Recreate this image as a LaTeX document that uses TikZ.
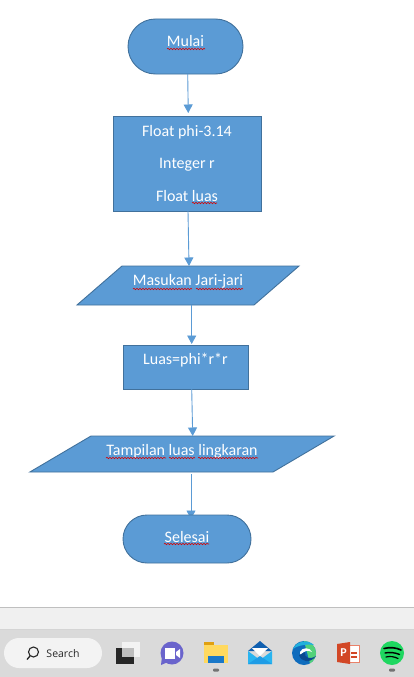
\documentclass[tikz,border=0pt]{standalone}
\usepackage{fontspec}
\setmainfont{Carlito}
\newfontfamily\searchfont{Open Sans}
\usetikzlibrary{arrows.meta,shapes.geometric,shapes.misc,decorations.pathmorphing,backgrounds}
\definecolor{fillblue}{HTML}{5B9BD5}
\definecolor{edgeblue}{HTML}{41719C}
\definecolor{barbg}{HTML}{DADADA}
\definecolor{stripbg}{HTML}{F0F0F0}
\definecolor{pillbg}{HTML}{F3F3F3}
\definecolor{meetpurple}{HTML}{6A64CC}
\definecolor{foldertab}{HTML}{E0A010}
\definecolor{folderbody}{HTML}{FFD95F}
\definecolor{folderblue}{HTML}{1A78C8}
\definecolor{mailtop}{HTML}{0F5FB0}
\definecolor{mailbody}{HTML}{28B4F0}
\definecolor{maillow}{HTML}{1E9CE6}
\definecolor{edgeblue1}{HTML}{0F6CBD}
\definecolor{edgegreen}{HTML}{52D27A}
\definecolor{edgecyan}{HTML}{22B0DC}
\definecolor{edgedark}{HTML}{0B4A90}
\definecolor{pptred}{HTML}{D24726}
\definecolor{pptorange}{HTML}{E9826A}
\definecolor{spotgreen}{HTML}{1ED760}
\tikzset{
  x=1pt,y=-1pt,
  flowshape/.style={draw=edgeblue,fill=fillblue,line width=0.9pt,text=white,inner sep=0pt,outer sep=0pt,
     font=\fontsize{16}{32.5}\selectfont,align=center},
  terminal/.style={flowshape,rounded rectangle},
  procbox/.style={flowshape,rectangle},
  ioshape/.style={draw=edgeblue,fill=fillblue,line width=0.9pt,inner sep=0pt,outer sep=0pt,trapezium},
  connector/.style={draw=fillblue,line width=0.9pt,-{Triangle[length=8.5pt,width=9pt]}},
  squiggle/.style={draw=red!85!black,line width=0.6pt,decorate,decoration={snake,amplitude=0.7pt,segment length=3pt}},
  lbl/.style={text=white,font=\fontsize{16}{19}\selectfont},
  pin/.style={fill=black!55,rounded corners=1pt}
}
\begin{document}
\begin{tikzpicture}
\useasboundingbox (0,0) rectangle (414,677);

% flowchart shapes
\node[terminal,minimum width=115pt,minimum height=55pt] (mulai) at (185.5,46.5) {};
\node[lbl] (mulaitxt) at (185.5,41) {Mulai};
\node[procbox,minimum width=148pt,minimum height=95pt] (vars) at (187,163.5) {Float phi-3.14\\Integer r\\Float luas};
\node[ioshape,trapezium left angle=40.9,trapezium right angle=139.1] (input) at (188,285.5) {\hbox to 132pt{\rule{0pt}{39pt}\hfil}};
\node[lbl] (inputtxt) at (188,281.5) {Masukan Jari-jari};
\node[procbox,minimum width=125pt,minimum height=44pt] (calc) at (185.5,367) {};
\node[lbl] (calctxt) at (185.5,360.5) {Luas=phi*r*r};
\node[ioshape,trapezium left angle=30.5,trapezium right angle=149.5] (output) at (182,454) {\hbox to 182pt{\rule{0pt}{36pt}\hfil}};
\node[lbl] (outputtxt) at (182,451) {Tampilan luas lingkaran};
\node[terminal,minimum width=128pt,minimum height=48pt] (selesai) at (187,539) {};
\node[lbl] (selesaitxt) at (187,537) {Selesai};

% connectors
\draw[connector,shorten >=3pt] ([xshift=2.2pt]mulai.south) -- ([xshift=1.3pt]vars.north);
\draw[connector] ([xshift=1pt]vars.south) -- ([xshift=1pt]input.north);
\draw[connector,shorten >=1pt] ([xshift=3.7pt]input.south) -- ([xshift=6.2pt]calc.north);
\draw[connector] ([xshift=6.2pt]calc.south) -- ([xshift=10.7pt]output.north);
\begin{scope}[on background layer]
\fill[white] (0,0) rectangle (414,677);
\draw[connector] ([xshift=9pt,yshift=-2pt]output.south) -- ([xshift=4pt,yshift=-4pt]selesai.north);
\end{scope}

% spell-check underlines
\draw[squiggle] (167,49) -- (205,49);
\draw[squiggle] (192,203) -- (217,203);
\draw[squiggle] (133,289) -- (192,289);
\draw[squiggle] (196,289) -- (243,289);
\draw[squiggle] (106,458) -- (166,458);
\draw[squiggle] (169,458) -- (195,458);
\draw[squiggle] (198,458) -- (258,458);
\draw[squiggle] (164,544) -- (209,544);

% window bottom strip and taskbar
\fill[stripbg] (0,607) rectangle (414,629);
\fill[black!25] (0,607) rectangle (414,608);
\fill[barbg] (0,629) rectangle (414,677);
\fill[black!17] (0,629) rectangle (414,630);

% search pill
\fill[pillbg,rounded corners=15pt] (4,638) rectangle (102,668);
\draw[black!85,line width=1.1pt] (33.5,652) circle (5pt);
\draw[black!85,line width=1.3pt] (30,656) -- (27,659.5);
\node[font=\searchfont\fontsize{10.5}{12}\selectfont,text=black!85,inner sep=0pt] (searchtxt) at (63,653.5) {Search};

% task view
\fill[black!85] (116,648) rectangle (134,664);
\fill[white,opacity=.7] (122,642) rectangle (140,657);

% meet now
\fill[meetpurple] (172,653) circle (11.5pt);
\fill[meetpurple] (161,665) -- (162,656) -- (168,662) -- cycle;
\fill[white] (165,648) rectangle (175,659);
\fill[white] (176,652) -- (180,649) -- (180,658) -- (176,655) -- cycle;

% explorer
\fill[foldertab] (204,642) rectangle (214,648);
\fill[folderbody] (204,645) rectangle (228,663);
\fill[folderblue] (208,656) rectangle (224,663);
\fill[pin] (213,668.5) rectangle (219,671.5);

% mail
\fill[mailtop] (248,651) -- (260,641) -- (272,651) -- cycle;
\fill[white] (252,648) -- (268,648) -- (260,656) -- cycle;
\fill[mailbody] (248,651) -- (260,660) -- (272,651) -- (272,664) -- (248,664) -- cycle;
\fill[maillow] (248,664) -- (260,656) -- (272,664) -- cycle;

% edge
\fill[edgeblue1] (304,653) circle (12pt);
\fill[edgegreen] (304,641) arc (90:-60:12pt) -- cycle;
\fill[edgecyan] (293,649) .. controls (296,641) and (308,639) .. (314,645) .. controls (308,644) and (298,645) .. (293,649) -- cycle;
\fill[white] (300,652) .. controls (302,647) and (310,647) .. (312,652) .. controls (308,650) and (304,650) .. (300,656) -- cycle;
\fill[edgedark] (299,655) .. controls (301,662) and (310,664) .. (316,656) .. controls (310,660) and (304,658) .. (305,652) -- cycle;

% powerpoint
\fill[white] (349,645) rectangle (359,662);
\draw[pptorange,line width=0.8pt] (349,645) rectangle (359,662);
\fill[pptred] (351,652) rectangle (357,653.5);
\fill[pptred] (351,656) rectangle (357,657.5);
\fill[pptred] (337,644) -- (350,642) -- (350,664) -- (337,662) -- cycle;
\node[font=\bfseries\fontsize{12}{12}\selectfont,text=white,inner sep=0pt] (ppttxt) at (343.5,653) {P};

% spotify
\fill[spotgreen] (392,653) circle (12pt);
\draw[black,line width=1.6pt,line cap=round] (384,648.5) .. controls (390,647) and (396,647.5) .. (401,650);
\draw[black,line width=1.4pt,line cap=round] (385,653) .. controls (390,652) and (395,652.5) .. (399.5,654.5);
\draw[black,line width=1.2pt,line cap=round] (386,657) .. controls (390,656) and (394,656.5) .. (398,658.5);
\fill[pin] (389,668.5) rectangle (395,671.5);
\end{tikzpicture}
\end{document}
